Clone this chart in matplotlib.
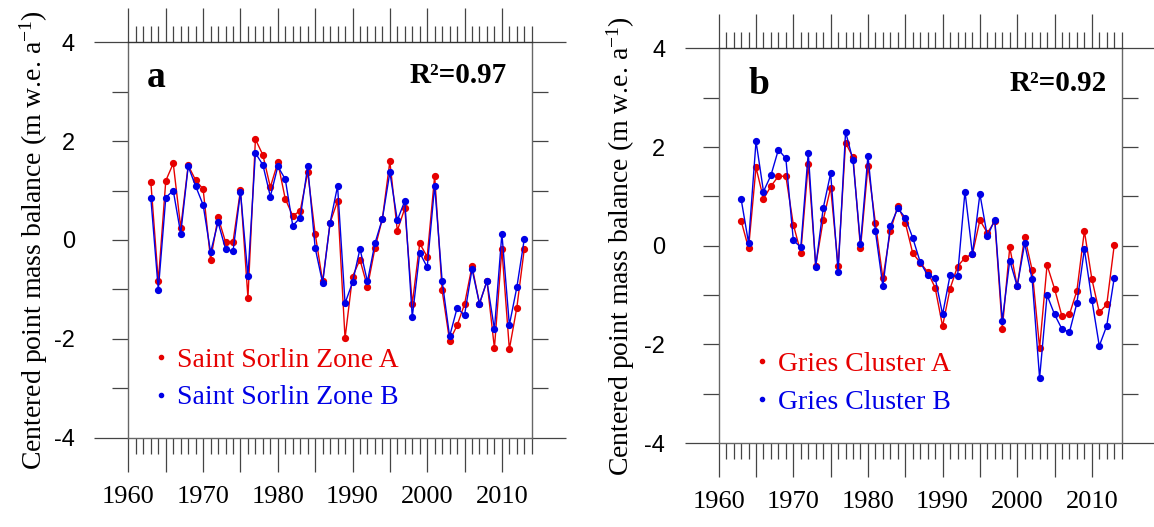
import numpy as np
import matplotlib
matplotlib.use("Agg")
import matplotlib.pyplot as plt
from matplotlib.ticker import MultipleLocator, FuncFormatter
from matplotlib.lines import Line2D

plt.rcParams["font.family"] = ["Liberation Serif", "DejaVu Serif"]
plt.rcParams["mathtext.fontset"] = "custom"
plt.rcParams["mathtext.rm"] = "Liberation Serif"
plt.rcParams["mathtext.it"] = "Liberation Serif:italic"
plt.rcParams["mathtext.bf"] = "Liberation Serif:bold"
plt.rcParams["axes.unicode_minus"] = False

years = np.arange(1963, 2014)

# panel a: Saint Sorlin
sorlin_a = [1.17, -0.84, 1.20, 1.55, 0.25, 1.51, 1.21, 1.03, -0.40, 0.46,
            -0.04, -0.04, 1.01, -1.17, 2.04, 1.72, 1.07, 1.57, 0.83, 0.49,
            0.59, 1.37, 0.13, -0.84, 0.35, 0.79, -1.99, -0.74, -0.40, -0.95,
            -0.17, 0.43, 1.59, 0.19, 0.64, -1.30, -0.07, -0.34, 1.30, -1.02,
            -2.04, -1.73, -1.30, -0.53, -1.29, -0.83, -2.19, -0.18, -2.21, -1.37,
            -0.18]
sorlin_b = [0.85, -1.01, 0.86, 1.00, 0.13, 1.49, 1.09, 0.71, -0.25, 0.36,
            -0.18, -0.23, 0.97, -0.73, 1.76, 1.52, 0.88, 1.49, 1.23, 0.29,
            0.45, 1.49, -0.16, -0.87, 0.35, 1.09, -1.28, -0.86, -0.18, -0.84,
            -0.07, 0.43, 1.37, 0.40, 0.79, -1.56, -0.26, -0.55, 1.10, -0.83,
            -1.95, -1.38, -1.52, -0.59, -1.29, -0.83, -1.81, 0.13, -1.72, -0.96,
            0.02]

# panel b: Gries
gries_a = [0.51, -0.05, 1.59, 0.95, 1.21, 1.41, 1.41, 0.43, -0.14, 1.66,
           -0.40, 0.52, 1.18, -0.41, 2.09, 1.79, -0.05, 1.62, 0.46, -0.66,
           0.30, 0.81, 0.47, -0.15, -0.34, -0.53, -0.85, -1.63, -0.87, -0.42,
           -0.24, -0.17, 0.52, 0.26, 0.50, -1.68, -0.03, -0.82, 0.18, -0.49,
           -2.07, -0.39, -0.87, -1.43, -1.39, -0.91, 0.30, -0.67, -1.35, -1.19,
           0.01]
gries_b = [0.95, 0.06, 2.12, 1.10, 1.43, 1.95, 1.77, 0.11, -0.03, 1.89,
           -0.42, 0.76, 1.47, -0.53, 2.31, 1.73, 0.03, 1.83, 0.29, -0.82,
           0.40, 0.76, 0.57, 0.16, -0.33, -0.60, -0.65, -1.39, -0.60, -0.62,
           1.10, -0.17, 1.05, 0.19, 0.53, -1.52, -0.30, -0.82, 0.05, -0.68,
           -2.68, -1.00, -1.39, -1.69, -1.75, -1.16, -0.07, -1.09, -2.03, -1.62,
           -0.65]

panels = [
    ("a", "R\u00b2=0.97", sorlin_a, sorlin_b,
     ["Saint Sorlin Zone A", "Saint Sorlin Zone B"]),
    ("b", "R\u00b2=0.92", gries_a, gries_b,
     ["Gries Cluster A", "Gries Cluster B"]),
]

RED = "#e60000"
BLUE = "#0000e6"
SPINE = "#666666"
TICK = "#444444"

fig = plt.figure(figsize=(11.54, 5.27), dpi=100)
rects = [[0.1113, 0.1696, 0.3495, 0.7500], [0.6228, 0.1592, 0.3492, 0.7488]]
# per-panel text placement in axes coords
letter_pos = [(0.046, 0.887), (0.075, 0.885)]
r2_pos = [(0.939, 0.897), (0.9635, 0.892)]
legend_pos = [(0.061, 0.229), (0.0876, 0.233)]
ylabel_x = [-0.195, -0.203]


def year_label(v, pos):
    return f"{int(round(v))}" if round(v) % 10 == 0 else ""


for i, (letter, r2, sa, sb, names) in enumerate(panels):
    ax = fig.add_axes(rects[i])
    ax.plot(years, sa, color=RED, lw=1.0, marker="o", ms=4.2, mec=RED, zorder=3)
    ax.plot(years, sb, color=BLUE, lw=1.0, marker="o", ms=4.2, mec=BLUE, zorder=4)

    ax.set_xlim(1960, 2014)
    ax.set_ylim(-4, 4)

    ax.xaxis.set_major_locator(MultipleLocator(5))
    ax.xaxis.set_minor_locator(MultipleLocator(1))
    ax.xaxis.set_major_formatter(FuncFormatter(year_label))
    ax.yaxis.set_major_locator(MultipleLocator(2))
    ax.yaxis.set_minor_locator(MultipleLocator(1))

    ax.tick_params(axis="x", which="both", direction="out", top=True, bottom=True,
                   color=TICK, width=0.9, labelsize=19, pad=10)
    ax.tick_params(axis="x", which="major", length=24.5)
    ax.tick_params(axis="x", which="minor", length=11.5)
    ax.tick_params(axis="y", which="both", direction="out", left=True, right=True,
                   color=TICK, width=0.9, length=11.5, labelsize=17, pad=27)
    for lab in ax.get_yticklabels():
        lab.set_fontfamily("Liberation Sans")

    # the +-4 ticks run out further, like extensions of the box
    for tick in ax.yaxis.get_major_ticks():
        if abs(abs(tick.get_loc()) - 4) < 1e-6:
            tick.tick1line.set_markersize(24.5)
            tick.tick2line.set_markersize(24.5)

    for side in ["left", "right", "bottom"]:
        ax.spines[side].set_color(SPINE)
        ax.spines[side].set_linewidth(1.0)
    ax.spines["top"].set_color("#333333")
    ax.spines["top"].set_linewidth(1.0)

    ax.set_ylabel("Centered point mass balance (m w.e. a$^{-1}$)", fontsize=20)
    ax.yaxis.set_label_coords(ylabel_x[i], 0.5)

    ax.text(letter_pos[i][0], letter_pos[i][1], letter, transform=ax.transAxes,
            fontsize=27, fontweight="bold", ha="left", va="baseline")
    ax.text(r2_pos[i][0], r2_pos[i][1], r2, transform=ax.transAxes,
            fontsize=21, fontweight="bold", ha="right", va="baseline")

    handles = [Line2D([], [], color=RED, marker="o", ms=3, linestyle="none"),
               Line2D([], [], color=BLUE, marker="o", ms=3, linestyle="none")]
    ax.legend(handles, names, loc="upper left", bbox_to_anchor=legend_pos[i],
              frameon=False, fontsize=20, handlelength=0.6, handletextpad=0.28,
              labelspacing=0.45, borderpad=0, borderaxespad=0,
              labelcolor="markerfacecolor")

fig.savefig("out.png", dpi=100)
